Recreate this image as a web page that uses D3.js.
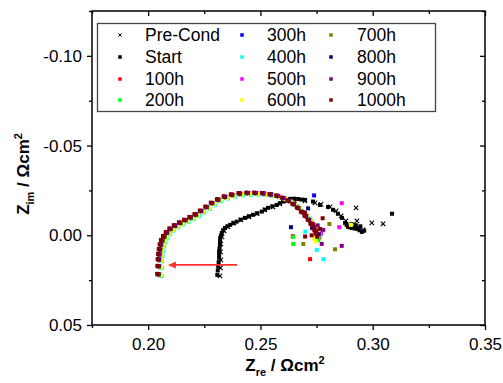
<!DOCTYPE html>
<html>
<head>
<meta charset="utf-8">
<script src="https://cdn.jsdelivr.net/npm/d3@7"></script>
<style>
  body { margin: 0; background: #fff; }
  svg { font-family: "Liberation Sans", Arial, sans-serif; }
</style>
</head>
<body>
<div id="chart"></div>
<script>
"use strict";

const width = 503,
      height = 383;

const margin = {top: 11, right: 18, bottom: 58, left: 92};
const plotW = width - margin.left - margin.right,
      plotH = height - margin.top - margin.bottom;

// axis ticks
const xMajor = [0.20, 0.25, 0.30, 0.35];
const xMinor = [0.175, 0.225, 0.275, 0.325];
const yMajor = [-0.10, -0.05, 0.00, 0.05];
const yMinor = [-0.125, -0.075, -0.025, 0.025];

// series: [Zre, Zim]
const preCond = [[0.2320,0.0226],[0.2322,0.0182],[0.2324,0.0137],[0.2322,0.0092],[0.2324,0.0048],[0.2329,0.0009],[0.2338,-0.0025],[0.2356,-0.0047],[0.2382,-0.0069],[0.2413,-0.0086],[0.2449,-0.0103],[0.2485,-0.0120],[0.2520,-0.0142],[0.2556,-0.0158],[0.2587,-0.0175],[0.2618,-0.0192],[0.2650,-0.0197],[0.2698,-0.0192],[0.2743,-0.0181],[0.2770,-0.0172],[0.2810,-0.0158],[0.2837,-0.0136],[0.2859,-0.0108],[0.2881,-0.0080],[0.2908,-0.0058],[0.2935,-0.0041],[0.2957,-0.0030],[0.2930,-0.0080],[0.2926,-0.0153],[0.2996,-0.0069],[0.3046,-0.0064]];

const start = [[0.2308,0.0221],[0.2310,0.0196],[0.2312,0.0174],[0.2314,0.0150],[0.2316,0.0126],[0.2316,0.0108],[0.2316,0.0091],[0.2318,0.0072],[0.2320,0.0053],[0.2320,0.0034],[0.2321,0.0016],[0.2324,0.0002],[0.2328,-0.0013],[0.2334,-0.0028],[0.2342,-0.0041],[0.2353,-0.0050],[0.2365,-0.0058],[0.2379,-0.0067],[0.2394,-0.0076],[0.2412,-0.0087],[0.2431,-0.0097],[0.2449,-0.0106],[0.2467,-0.0114],[0.2486,-0.0123],[0.2506,-0.0132],[0.2520,-0.0143],[0.2534,-0.0153],[0.2553,-0.0161],[0.2572,-0.0169],[0.2587,-0.0179],[0.2601,-0.0188],[0.2616,-0.0196],[0.2632,-0.0203],[0.2650,-0.0204],[0.2668,-0.0202],[0.2684,-0.0199],[0.2698,-0.0197],[0.2734,-0.0188],[0.2765,-0.0169],[0.2801,-0.0158],[0.2823,-0.0142],[0.2845,-0.0120],[0.2863,-0.0097],[0.2877,-0.0069],[0.2884,-0.0058],[0.2890,-0.0047],[0.2899,-0.0044],[0.2908,-0.0041],[0.2919,-0.0038],[0.2930,-0.0036],[0.2941,-0.0028],[0.2952,-0.0019],[0.2962,-0.0026],[0.2945,-0.0050],[0.2925,-0.0056],[0.2905,-0.0062],[0.3086,-0.0120]];

const h100 = [[0.2052,0.0223],[0.2053,0.0178],[0.2054,0.0141],[0.2056,0.0112],[0.2059,0.0085],[0.2063,0.0058],[0.2069,0.0034],[0.2078,0.0012],[0.2090,-0.0010],[0.2106,-0.0030],[0.2126,-0.0048],[0.2149,-0.0064],[0.2172,-0.0079],[0.2195,-0.0094],[0.2218,-0.0110],[0.2242,-0.0130],[0.2266,-0.0152],[0.2291,-0.0174],[0.2318,-0.0193],[0.2348,-0.0209],[0.2380,-0.0220],[0.2414,-0.0227],[0.2449,-0.0230],[0.2484,-0.0230],[0.2519,-0.0228],[0.2552,-0.0222],[0.2582,-0.0214],[0.2608,-0.0202],[0.2632,-0.0187],[0.2654,-0.0168],[0.2674,-0.0147],[0.2692,-0.0124],[0.2708,-0.0102],[0.2722,-0.0080],[0.2734,-0.0058],[0.2744,-0.0038],[0.2752,-0.0020],[0.2758,-0.0002],[0.2644,0.0005],[0.2721,0.0133],[0.2762,0.0012]];

const h200 = [[0.2050,0.0221],[0.2051,0.0176],[0.2052,0.0139],[0.2054,0.0110],[0.2057,0.0083],[0.2061,0.0056],[0.2067,0.0032],[0.2076,0.0010],[0.2088,-0.0012],[0.2104,-0.0032],[0.2124,-0.0050],[0.2147,-0.0066],[0.2170,-0.0081],[0.2193,-0.0096],[0.2216,-0.0112],[0.2240,-0.0132],[0.2264,-0.0154],[0.2289,-0.0176],[0.2316,-0.0195],[0.2346,-0.0211],[0.2378,-0.0222],[0.2412,-0.0229],[0.2447,-0.0232],[0.2482,-0.0232],[0.2517,-0.0230],[0.2550,-0.0224],[0.2580,-0.0216],[0.2606,-0.0204],[0.2630,-0.0189],[0.2652,-0.0170],[0.2672,-0.0149],[0.2690,-0.0126],[0.2706,-0.0104],[0.2720,-0.0082],[0.2732,-0.0060],[0.2742,-0.0040],[0.2750,-0.0022],[0.2756,-0.0004],[0.2646,0.0009],[0.2646,0.0048],[0.2758,0.0026]];

const h300 = [[0.2046,0.0218],[0.2047,0.0173],[0.2048,0.0136],[0.2050,0.0107],[0.2053,0.0080],[0.2057,0.0053],[0.2063,0.0029],[0.2072,0.0007],[0.2084,-0.0015],[0.2100,-0.0035],[0.2120,-0.0053],[0.2143,-0.0069],[0.2166,-0.0084],[0.2189,-0.0099],[0.2212,-0.0115],[0.2236,-0.0135],[0.2260,-0.0157],[0.2285,-0.0179],[0.2312,-0.0198],[0.2342,-0.0214],[0.2374,-0.0225],[0.2408,-0.0232],[0.2443,-0.0235],[0.2478,-0.0235],[0.2513,-0.0233],[0.2546,-0.0227],[0.2576,-0.0219],[0.2602,-0.0207],[0.2626,-0.0192],[0.2648,-0.0173],[0.2668,-0.0152],[0.2686,-0.0129],[0.2702,-0.0107],[0.2716,-0.0085],[0.2728,-0.0063],[0.2738,-0.0043],[0.2746,-0.0025],[0.2752,-0.0007],[0.2739,-0.0222],[0.2730,-0.0040],[0.2755,-0.0015]];

const h400 = [[0.2060,0.0227],[0.2061,0.0182],[0.2062,0.0145],[0.2064,0.0116],[0.2067,0.0089],[0.2071,0.0062],[0.2077,0.0038],[0.2086,0.0016],[0.2098,-0.0006],[0.2114,-0.0026],[0.2134,-0.0044],[0.2157,-0.0060],[0.2180,-0.0075],[0.2203,-0.0090],[0.2226,-0.0106],[0.2250,-0.0126],[0.2274,-0.0148],[0.2299,-0.0170],[0.2326,-0.0189],[0.2356,-0.0205],[0.2388,-0.0216],[0.2422,-0.0223],[0.2457,-0.0226],[0.2492,-0.0226],[0.2527,-0.0224],[0.2560,-0.0218],[0.2590,-0.0210],[0.2616,-0.0198],[0.2640,-0.0183],[0.2662,-0.0164],[0.2682,-0.0143],[0.2700,-0.0120],[0.2716,-0.0098],[0.2730,-0.0076],[0.2742,-0.0054],[0.2752,-0.0034],[0.2760,-0.0016],[0.2766,0.0002],[0.2751,0.0081],[0.2780,0.0133],[0.2700,-0.0020]];

const h500 = [[0.2052,0.0219],[0.2053,0.0174],[0.2054,0.0137],[0.2056,0.0108],[0.2059,0.0081],[0.2063,0.0054],[0.2069,0.0030],[0.2078,0.0008],[0.2090,-0.0014],[0.2106,-0.0034],[0.2126,-0.0052],[0.2149,-0.0068],[0.2172,-0.0083],[0.2195,-0.0098],[0.2218,-0.0114],[0.2242,-0.0134],[0.2266,-0.0156],[0.2291,-0.0178],[0.2318,-0.0197],[0.2348,-0.0213],[0.2380,-0.0224],[0.2414,-0.0231],[0.2449,-0.0234],[0.2484,-0.0234],[0.2519,-0.0232],[0.2552,-0.0226],[0.2582,-0.0218],[0.2608,-0.0206],[0.2632,-0.0191],[0.2654,-0.0172],[0.2674,-0.0151],[0.2692,-0.0128],[0.2708,-0.0106],[0.2722,-0.0084],[0.2734,-0.0062],[0.2744,-0.0042],[0.2752,-0.0024],[0.2758,-0.0006],[0.2862,-0.0179],[0.2851,-0.0045],[0.2770,-0.0010]];

const h600 = [[0.2056,0.0223],[0.2057,0.0178],[0.2058,0.0141],[0.2060,0.0112],[0.2063,0.0085],[0.2067,0.0058],[0.2073,0.0034],[0.2082,0.0012],[0.2094,-0.0010],[0.2110,-0.0030],[0.2130,-0.0048],[0.2153,-0.0064],[0.2176,-0.0079],[0.2199,-0.0094],[0.2222,-0.0110],[0.2246,-0.0130],[0.2270,-0.0152],[0.2295,-0.0174],[0.2322,-0.0193],[0.2352,-0.0209],[0.2384,-0.0220],[0.2418,-0.0227],[0.2453,-0.0230],[0.2488,-0.0230],[0.2523,-0.0228],[0.2556,-0.0222],[0.2586,-0.0214],[0.2612,-0.0202],[0.2636,-0.0187],[0.2658,-0.0168],[0.2678,-0.0147],[0.2696,-0.0124],[0.2712,-0.0102],[0.2726,-0.0080],[0.2738,-0.0058],[0.2748,-0.0038],[0.2756,-0.0020],[0.2762,-0.0002],[0.2903,-0.0058],[0.2747,0.0035],[0.2740,0.0015]];

const h700 = [[0.2048,0.0219],[0.2049,0.0174],[0.2050,0.0137],[0.2052,0.0108],[0.2055,0.0081],[0.2059,0.0054],[0.2065,0.0030],[0.2074,0.0008],[0.2086,-0.0014],[0.2102,-0.0034],[0.2122,-0.0052],[0.2145,-0.0068],[0.2168,-0.0083],[0.2191,-0.0098],[0.2214,-0.0114],[0.2238,-0.0134],[0.2262,-0.0156],[0.2287,-0.0178],[0.2314,-0.0197],[0.2344,-0.0213],[0.2376,-0.0224],[0.2410,-0.0231],[0.2445,-0.0234],[0.2480,-0.0234],[0.2515,-0.0232],[0.2548,-0.0226],[0.2578,-0.0218],[0.2604,-0.0206],[0.2628,-0.0191],[0.2650,-0.0172],[0.2670,-0.0151],[0.2688,-0.0128],[0.2704,-0.0106],[0.2718,-0.0084],[0.2730,-0.0062],[0.2740,-0.0042],[0.2748,-0.0024],[0.2754,-0.0006],[0.2807,-0.0063],[0.2691,0.0048],[0.2832,0.0078]];

const h800 = [[0.2046,0.0217],[0.2047,0.0172],[0.2048,0.0135],[0.2050,0.0106],[0.2053,0.0079],[0.2057,0.0052],[0.2063,0.0028],[0.2072,0.0006],[0.2084,-0.0016],[0.2100,-0.0036],[0.2120,-0.0054],[0.2143,-0.0070],[0.2166,-0.0085],[0.2189,-0.0100],[0.2212,-0.0116],[0.2236,-0.0136],[0.2260,-0.0158],[0.2285,-0.0180],[0.2312,-0.0199],[0.2342,-0.0215],[0.2374,-0.0226],[0.2408,-0.0233],[0.2443,-0.0236],[0.2478,-0.0236],[0.2513,-0.0234],[0.2546,-0.0228],[0.2576,-0.0220],[0.2602,-0.0208],[0.2626,-0.0193],[0.2648,-0.0174],[0.2668,-0.0153],[0.2686,-0.0130],[0.2702,-0.0108],[0.2716,-0.0086],[0.2728,-0.0064],[0.2738,-0.0044],[0.2746,-0.0026],[0.2752,-0.0008],[0.2636,-0.0045],[0.2760,-0.0005],[0.2712,-0.0150]];

const h900 = [[0.2044,0.0217],[0.2045,0.0172],[0.2046,0.0135],[0.2048,0.0106],[0.2051,0.0079],[0.2055,0.0052],[0.2061,0.0028],[0.2070,0.0006],[0.2082,-0.0016],[0.2098,-0.0036],[0.2118,-0.0054],[0.2141,-0.0070],[0.2164,-0.0085],[0.2187,-0.0100],[0.2210,-0.0116],[0.2234,-0.0136],[0.2258,-0.0158],[0.2283,-0.0180],[0.2310,-0.0199],[0.2340,-0.0215],[0.2372,-0.0226],[0.2406,-0.0233],[0.2441,-0.0236],[0.2476,-0.0236],[0.2511,-0.0234],[0.2544,-0.0228],[0.2574,-0.0220],[0.2600,-0.0208],[0.2624,-0.0193],[0.2646,-0.0174],[0.2666,-0.0153],[0.2684,-0.0130],[0.2700,-0.0108],[0.2714,-0.0086],[0.2726,-0.0064],[0.2736,-0.0044],[0.2744,-0.0026],[0.2750,-0.0008],[0.2773,0.0048],[0.2862,0.0059],[0.2780,-0.0030],[0.2755,-0.0055]];

const h1000 = [[0.2040,0.0215],[0.2041,0.0170],[0.2042,0.0133],[0.2044,0.0104],[0.2047,0.0077],[0.2051,0.0050],[0.2057,0.0026],[0.2066,0.0004],[0.2078,-0.0018],[0.2094,-0.0038],[0.2114,-0.0056],[0.2137,-0.0072],[0.2160,-0.0087],[0.2183,-0.0102],[0.2206,-0.0118],[0.2230,-0.0138],[0.2254,-0.0160],[0.2279,-0.0182],[0.2306,-0.0201],[0.2336,-0.0217],[0.2368,-0.0228],[0.2402,-0.0235],[0.2437,-0.0238],[0.2472,-0.0238],[0.2507,-0.0236],[0.2540,-0.0230],[0.2570,-0.0222],[0.2596,-0.0210],[0.2620,-0.0195],[0.2642,-0.0176],[0.2662,-0.0155],[0.2680,-0.0132],[0.2696,-0.0110],[0.2710,-0.0088],[0.2722,-0.0066],[0.2732,-0.0046],[0.2740,-0.0028],[0.2746,-0.0010],[0.2699,0.0007],[0.2698,-0.0125],[0.2777,-0.0095],[0.2735,-0.0060],[0.2752,0.0008],[0.2765,-0.0035],[0.2728,0.0000]];

const seriesNames = ["Pre-Cond", "Start", "100h", "200h", "300h", "400h", "500h", "600h", "700h", "800h", "900h", "1000h"];
const seriesColors = ["#000000", "#000000", "#ff0000", "#00ff00", "#0000ff", "#00ffff", "#ff00ff", "#ffff00", "#808000", "#000080", "#800080", "#800000"];
const seriesData = [preCond, start, h100, h200, h300, h400, h500, h600, h700, h800, h900, h1000];

// red arrow annotation (data units)
const arrowZre = [0.2396, 0.2088];
const arrowZim = 0.0165;

const x = d3.scaleLinear()
  .domain([0.175, 0.35])
  .range([0, plotW]);

const y = d3.scaleLinear()
  .domain([-0.125, 0.05])
  .range([0, plotH]);

const svg = d3.select("#chart")
  .append("svg")
  .attr("width", width)
  .attr("height", height);

const g = svg.append("g")
  .attr("transform", `translate(${margin.left},${margin.top})`);

const fmt = d => d.toFixed(2);

function styleAxis(sel) {
  sel.select(".domain").remove();
  sel.selectAll(".tick line").attr("stroke", "#000").attr("stroke-width", 1.3);
  sel.selectAll(".tick text").attr("fill", "#000").style("font-size", "17px");
}

// bottom
g.append("g")
  .attr("transform", `translate(0,${plotH})`)
  .call(d3.axisBottom(x).tickValues(xMajor).tickSize(5).tickPadding(8).tickFormat(fmt))
  .call(styleAxis);
g.append("g")
  .attr("transform", `translate(0,${plotH})`)
  .call(d3.axisBottom(x).tickValues(xMinor).tickSize(3).tickFormat(""))
  .call(styleAxis);

// left
g.append("g")
  .call(d3.axisLeft(y).tickValues(yMajor).tickSize(5).tickPadding(5).tickFormat(fmt))
  .call(styleAxis);
g.append("g")
  .call(d3.axisLeft(y).tickValues(yMinor).tickSize(3).tickFormat(""))
  .call(styleAxis);

// top and right, ticks pointing in
g.append("g")
  .call(d3.axisBottom(x).tickValues(xMajor).tickSize(5).tickFormat(""))
  .call(styleAxis);
g.append("g")
  .call(d3.axisBottom(x).tickValues(xMinor).tickSize(3).tickFormat(""))
  .call(styleAxis);
g.append("g")
  .attr("transform", `translate(${plotW},0)`)
  .call(d3.axisLeft(y).tickValues(yMajor).tickSize(5).tickFormat(""))
  .call(styleAxis);
g.append("g")
  .attr("transform", `translate(${plotW},0)`)
  .call(d3.axisLeft(y).tickValues(yMinor).tickSize(3).tickFormat(""))
  .call(styleAxis);

g.append("rect")
  .attr("width", plotW)
  .attr("height", plotH)
  .attr("fill", "none")
  .attr("stroke", "#000")
  .attr("stroke-width", 1.5);

// data points
const crossPath = s => `M${-s},${-s}L${s},${s}M${-s},${s}L${s},${-s}`;
const sq = 4;

seriesData.forEach(function(pts, i) {
  const layer = g.append("g").attr("class", "series");
  if (i === 0) {
    layer.selectAll("path")
      .data(pts)
      .join("path")
        .attr("d", crossPath(2.2))
        .attr("transform", d => `translate(${x(d[0])},${y(d[1])})`)
        .attr("stroke", seriesColors[i])
        .attr("stroke-width", 1.1)
        .attr("fill", "none");
  } else {
    layer.selectAll("rect")
      .data(pts)
      .join("rect")
        .attr("x", d => x(d[0]) - sq / 2)
        .attr("y", d => y(d[1]) - sq / 2)
        .attr("width", sq)
        .attr("height", sq)
        .attr("fill", seriesColors[i]);
  }
});

// arrow
const ax0 = x(arrowZre[0]), ax1 = x(arrowZre[1]), ay = y(arrowZim);
g.append("line")
  .attr("x1", ax0)
  .attr("x2", ax1 + 6)
  .attr("y1", ay)
  .attr("y2", ay)
  .attr("stroke", "#ff3030")
  .attr("stroke-width", 1.6);
g.append("path")
  .attr("d", `M${ax1},${ay}L${ax1 + 8},${ay - 3.5}L${ax1 + 8},${ay + 3.5}Z`)
  .attr("fill", "#ff3030");

// legend
const legendSymbolX = [120, 242, 331],
      legendTextX = [145, 267, 357],
      legendRowY = [35, 57, 79, 100];

svg.append("rect")
  .attr("x", 97.5)
  .attr("y", 23.5)
  .attr("width", 338)
  .attr("height", 88)
  .attr("fill", "#fff")
  .attr("stroke", "#444")
  .attr("stroke-width", 1.3);

const legend = svg.append("g");
seriesNames.forEach(function(name, i) {
  const col = Math.floor(i / 4), row = i % 4;
  const cx = legendSymbolX[col], cy = legendRowY[row];
  if (i === 0) {
    legend.append("path")
      .attr("d", crossPath(1.6))
      .attr("transform", `translate(${cx},${cy})`)
      .attr("stroke", seriesColors[i])
      .attr("stroke-width", 1);
  } else {
    legend.append("rect")
      .attr("x", cx - 1.75)
      .attr("y", cy - 1.75)
      .attr("width", 3.5)
      .attr("height", 3.5)
      .attr("fill", seriesColors[i]);
  }
  legend.append("text")
    .attr("x", legendTextX[col])
    .attr("y", cy)
    .attr("dy", "0.36em")
    .style("font-size", "17.5px")
    .text(name);
});

// axis titles
const xTitle = svg.append("text")
  .attr("x", 285)
  .attr("y", 371)
  .attr("text-anchor", "middle")
  .style("font-size", "17px")
  .style("font-weight", "bold");
xTitle.append("tspan").text("Z");
xTitle.append("tspan").attr("dy", 5).style("font-size", "11px").text("re");
xTitle.append("tspan").attr("dy", -5).text(" / Ωcm");
xTitle.append("tspan").attr("dy", -7).style("font-size", "11px").text("2");

const yTitle = svg.append("text")
  .attr("transform", "translate(29,174) rotate(-90)")
  .attr("text-anchor", "middle")
  .style("font-size", "17px")
  .style("font-weight", "bold");
yTitle.append("tspan").text("Z");
yTitle.append("tspan").attr("dy", 5).style("font-size", "11px").text("im");
yTitle.append("tspan").attr("dy", -5).text(" / Ωcm");
yTitle.append("tspan").attr("dy", -7).style("font-size", "11px").text("2");
</script>
</body>
</html>
